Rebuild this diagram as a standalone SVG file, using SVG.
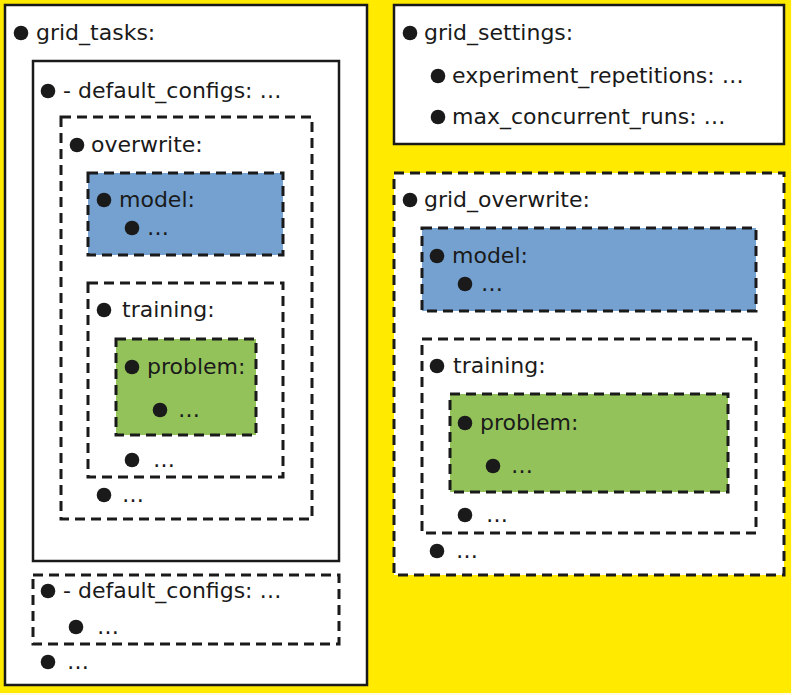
<svg xmlns="http://www.w3.org/2000/svg" width="792" height="695" viewBox="0 0 792 695">
<style>
.solid{fill:#fff;stroke:#1a1a1a;stroke-width:2.5}
.dash{fill:#fff;stroke:#1a1a1a;stroke-width:3;stroke-dasharray:10 6}
.blue{fill:#74a1d0}
.green{fill:#93c25b}
text{font-family:"DejaVu Sans","Liberation Sans",sans-serif;font-size:22px;fill:#1a1a1a}
circle{fill:#1a1a1a}
</style>
<rect x="0" y="0" width="792" height="695" fill="#fffbe6"/>
<rect x="0" y="0" width="791" height="693" fill="#ffea00"/>
<g id="grid_tasks">
<rect class="solid" x="5" y="5" width="362" height="680"/>
<circle cx="21" cy="33" r="7.3"/><text x="36" y="40">grid_tasks:</text>
</g>
<g id="default_configs_1">
<rect class="solid" x="33" y="61" width="306" height="500"/>
<circle cx="48" cy="91" r="7.3"/><text x="63" y="98">- default_configs: …</text>
</g>
<g id="overwrite">
<rect class="dash" x="61" y="117" width="251" height="402"/>
<circle cx="77" cy="145" r="7.3"/><text x="91" y="152">overwrite:</text>
<circle cx="104" cy="495" r="7.3"/><text x="122" y="502">…</text>
</g>
<g id="model_left">
<rect class="dash blue" x="88" y="173" width="195" height="82"/>
<circle cx="104" cy="200" r="7.3"/><text x="119" y="207">model:</text>
<circle cx="132" cy="228" r="7.3"/><text x="147" y="235">…</text>
</g>
<g id="training_left">
<rect class="dash" x="88" y="283" width="195" height="194"/>
<circle cx="104" cy="310" r="7.3"/><text x="122" y="317">training:</text>
<circle cx="132" cy="460" r="7.3"/><text x="153" y="467">…</text>
</g>
<g id="problem_left">
<rect class="dash green" x="116" y="339" width="140" height="96"/>
<circle cx="132" cy="367" r="7.3"/><text x="147" y="374">problem:</text>
<circle cx="160" cy="410" r="7.3"/><text x="178" y="417">…</text>
</g>
<g id="default_configs_2">
<rect class="dash" x="33" y="575" width="306" height="69"/>
<circle cx="48" cy="591" r="7.3"/><text x="63" y="598">- default_configs: …</text>
<circle cx="76" cy="627" r="7.3"/><text x="97" y="634">…</text>
</g>
<g id="grid_tasks_more">
<circle cx="48" cy="662" r="7.3"/><text x="67" y="669">…</text>
</g>
<g id="grid_settings">
<rect class="solid" x="394" y="5" width="390" height="139"/>
<circle cx="410" cy="33" r="7.3"/><text x="424" y="40">grid_settings:</text>
<circle cx="438" cy="76" r="7.3"/><text x="452" y="83">experiment_repetitions: …</text>
<circle cx="438" cy="117" r="7.3"/><text x="452" y="124">max_concurrent_runs: …</text>
</g>
<g id="grid_overwrite">
<rect class="dash" x="394" y="173" width="390" height="402"/>
<circle cx="410" cy="200" r="7.3"/><text x="424" y="207">grid_overwrite:</text>
<circle cx="437" cy="551" r="7.3"/><text x="456" y="558">…</text>
</g>
<g id="model_right">
<rect class="dash blue" x="422" y="228" width="334" height="83"/>
<circle cx="437" cy="256" r="7.3"/><text x="452" y="263">model:</text>
<circle cx="465" cy="284" r="7.3"/><text x="481" y="291">…</text>
</g>
<g id="training_right">
<rect class="dash" x="422" y="339" width="334" height="194"/>
<circle cx="437" cy="366" r="7.3"/><text x="453" y="373">training:</text>
<circle cx="465" cy="515" r="7.3"/><text x="486" y="522">…</text>
</g>
<g id="problem_right">
<rect class="dash green" x="450" y="394" width="278" height="98"/>
<circle cx="465" cy="423" r="7.3"/><text x="480" y="430">problem:</text>
<circle cx="493" cy="466" r="7.3"/><text x="511" y="473">…</text>
</g>
<g id="connectors"></g>
</svg>
